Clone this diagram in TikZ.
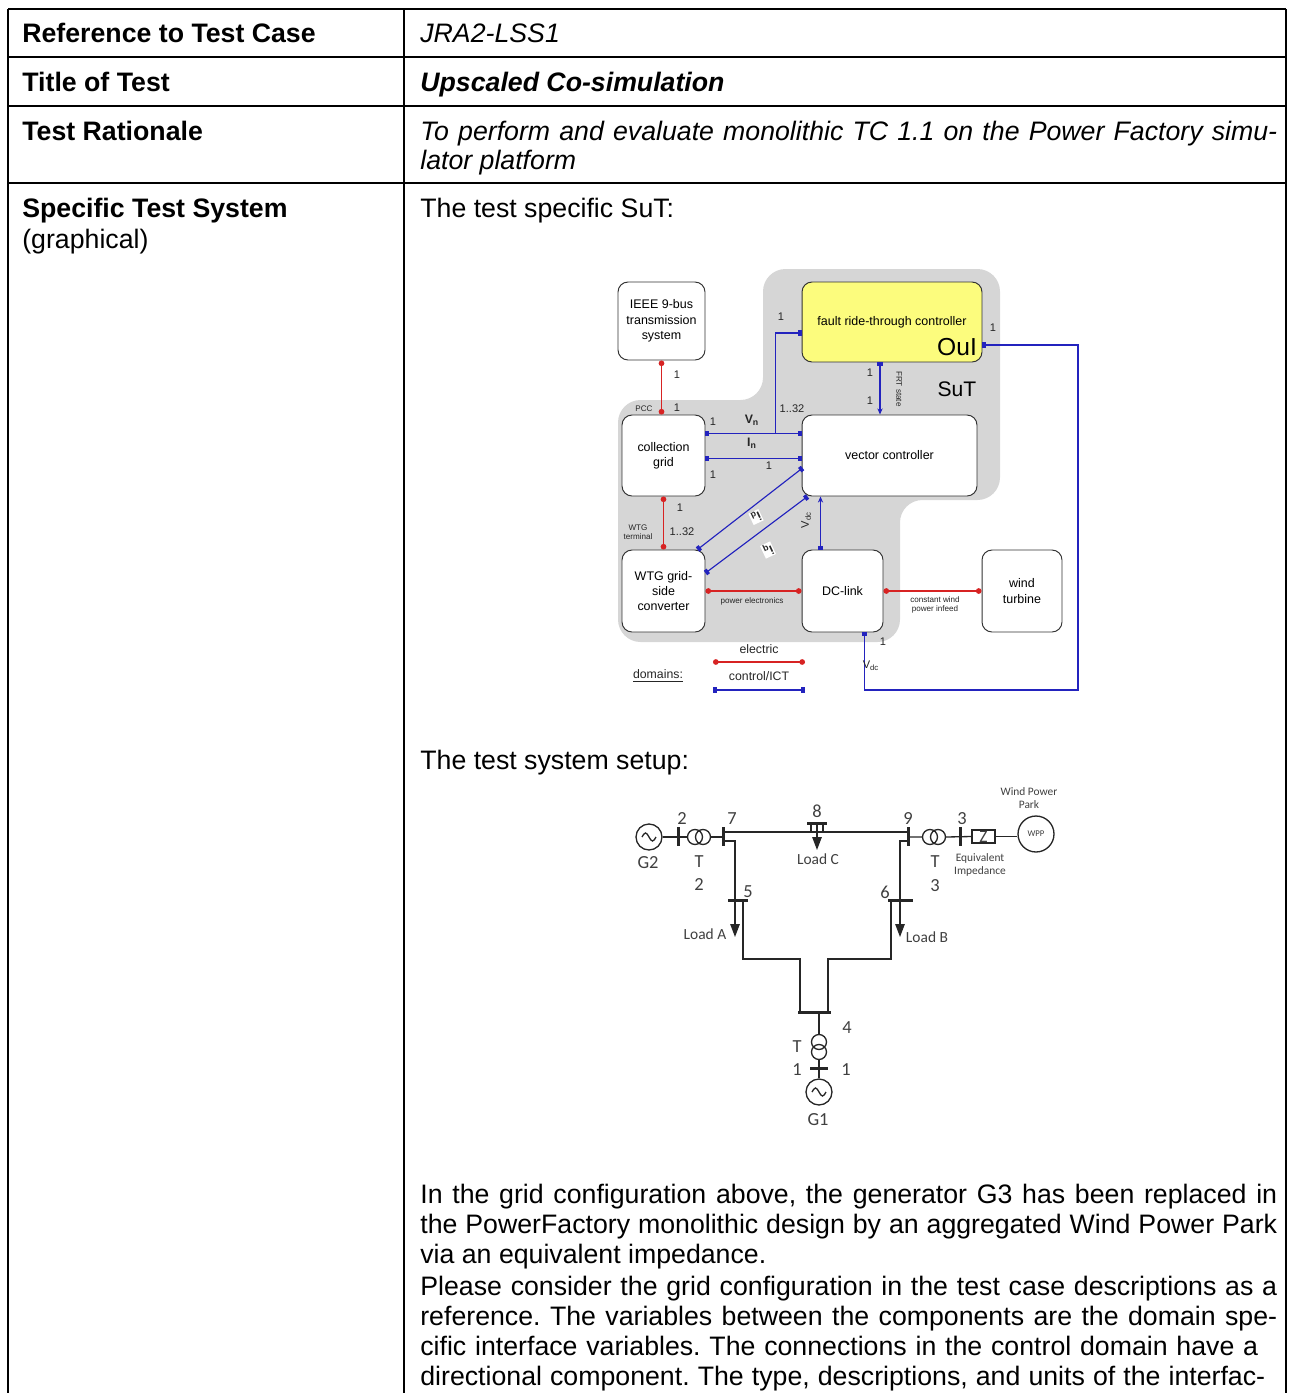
\documentclass[tikz,border=0pt]{standalone}
\usepackage{fontspec}
\setmainfont{Liberation Sans}
\newfontfamily\gridfont{Carlito}
\usetikzlibrary{calc, arrows.meta}
\frenchspacing

\definecolor{elred}{RGB}{215,35,35}
\definecolor{ctblue}{RGB}{35,35,190}
\definecolor{frtyellow}{RGB}{252,252,125}
\definecolor{sutgray}{RGB}{214,214,214}
\definecolor{gridtext}{RGB}{64,64,64}

\newlength\jw
\setlength\jw{17.14cm}
\newcommand\jline[2][\jw]{\makebox[#1][s]{#2}}

\tikzset{
  cell/.style={anchor=base west, inner sep=0pt, font=\fontsize{15.2}{17}\selectfont},
  block/.style={draw=black!80, fill=white, rounded corners=0.2cm, line width=0.55pt, align=center, inner sep=1pt, font=\fontsize{7.1}{8.8}\selectfont},
  elec/.style={draw=elred, line width=0.7pt, {Circle[length=3.2pt]}-{Circle[length=3.2pt]}},
  ctl/.style={draw=ctblue, line width=0.65pt, {Square[length=2pt,width=3.2pt]}-{Square[length=2pt,width=3.2pt]}},
  ctlend/.style={draw=ctblue, line width=0.65pt, -{Square[length=2pt,width=3.2pt]}},
  ctlin/.style={draw=ctblue, line width=0.65pt, {Square[length=2pt,width=3.2pt]}-{Stealth[length=3.5pt,width=3pt]}},
  num/.style={inner sep=0pt, font=\fontsize{6.3}{7}\selectfont, text=black!85},
  sig/.style={inner sep=0pt, font=\bfseries\fontsize{7}{8}\selectfont, text=black!85},
  minilbl/.style={inner sep=0pt, font=\fontsize{4.6}{5.4}\selectfont, text=black!85, align=center},
  legtxt/.style={inner sep=0pt, font=\fontsize{7}{8}\selectfont, text=black!85},
  wire/.style={line width=0.75pt, draw=black!85},
  busv/.style={fill=black!85, inner sep=0pt, minimum width=0.06cm, minimum height=0.38cm},
  bush/.style={fill=black!85, inner sep=0pt, minimum height=0.06cm},
  device/.style={draw=black!85, line width=0.75pt, circle, inner sep=0pt},
  load/.style={-{Triangle[length=0.26cm,width=0.19cm]}},
  gtxt/.style={inner sep=0pt, text=gridtext, font=\gridfont\fontsize{10.5}{12}\selectfont},
  gsmall/.style={inner sep=0pt, text=gridtext, font=\gridfont\fontsize{8.8}{10}\selectfont},
  gtiny/.style={inner sep=0pt, text=gridtext, font=\gridfont\fontsize{6.5}{7.6}\selectfont, align=center},
}

\begin{document}
\begin{tikzpicture}[x=0.02cm, y=-0.02cm, >=stealth]
  \useasboundingbox (0,0) rectangle (1293,1393);
  \clip (0,0) rectangle (1293,1393);
  \def\colx{404}

  % table
  \draw[line width=0.8pt] (8,9) -- (1286,9);
  \draw[line width=0.8pt] (8,9) -- (8,1400);
  \draw[line width=0.8pt] (1286,9) -- (1286,1400);
  \draw[line width=0.8pt] (\colx,9) -- (\colx,1400);
  \foreach \y in {57,106,183}
    \draw[line width=0.8pt] (8,\y) -- (1286,\y);

  \node[cell] (refkey) at (22,42) {\bfseries Reference to Test Case};
  \node[cell] (refval) at (420,42) {\itshape JRA2-LSS1};
  \node[cell] (titkey) at (22,91) {\bfseries Title of Test};
  \node[cell] (titval) at (420,91) {\bfseries\itshape Upscaled Co-simulation};
  \node[cell] (ratkey) at (22,140) {\bfseries Test Rationale};
  \node[cell] (ratval) at (420,140) {\itshape\jline{To perform and evaluate monolithic TC 1.1 on the Power Factory simu-}};
  \node[cell] (ratval2) at (420,169) {\itshape lator platform};
  \node[cell] (syskey) at (22,217) {\bfseries Specific Test System};
  \node[cell] (syskey2) at (22,248) {(graphical)};
  \node[cell] (sysval) at (420,217) {The test specific SuT:};

  % SuT
  \fill[sutgray, rounded corners=0.45cm] (618,400) -- (763,400) -- (763,269) -- (1000,269) -- (1000,500)
    -- (900,500) -- (900,642) -- (618,642) -- cycle;

  \node[block, minimum width=1.74cm, minimum height=1.56cm] (ieee) at (661.5,321) {IEEE 9-bus\\transmission\\system};
  \node[block, fill=frtyellow, minimum width=3.6cm, minimum height=1.6cm] (frt) at (892,322) {fault ride-through controller};
  \node[inner sep=0pt, font=\fontsize{14}{14}\selectfont] (oul) at (957,347) {OuI};
  \node[block, minimum width=1.66cm, minimum height=1.62cm] (cgrid) at (663.5,455.5) {collection\\grid};
  \node[block, minimum width=3.5cm, minimum height=1.62cm] (vctrl) at (889.5,455.5) {vector controller};
  \node[block, minimum width=1.66cm, minimum height=1.64cm] (wtg) at (663.5,591) {WTG grid-\\side\\converter};
  \node[block, minimum width=1.62cm, minimum height=1.64cm] (dclink) at (842.5,591) {DC-link};
  \node[block, minimum width=1.6cm, minimum height=1.64cm] (wturb) at (1022,591) {wind\\turbine};

  \draw[elec] (ieee.south) -- (ieee.south |- cgrid.north);
  \draw[elec] (cgrid.south) -- (wtg.north);
  \draw[elec] (wtg.east) -- (dclink.west);
  \draw[elec] (dclink.east) -- (wturb.west);

  \draw[ctl] ($(cgrid.east)+(0,-22)$) -- ($(vctrl.west)+(0,-22)$);
  \coordinate (vnsplit) at ($(cgrid.east)!0.73!(vctrl.west)+(0,-22)$);
  \draw[ctlend] (vnsplit) |- ($(frt.west)+(0,11)$);
  \draw[ctl] ($(cgrid.east)+(0,3)$) -- ($(vctrl.west)+(0,3)$);
  \coordinate (frtout) at ($(frt.south)+(-12,0)$);
  \draw[ctlin] (frtout) -- (frtout |- vctrl.north);
  \draw[ctl] ($(vctrl.west)+(1,12.5)$) -- ($(wtg.north east)+(-8,0)$);
  \draw[ctl] ($(vctrl.south west)+(6,0)$) -- ($(wtg.east)+(0,-18)$);
  \coordinate (vdcin) at ($(dclink.north)+(-22,0)$);
  \draw[ctlin] (vdcin) -- (vdcin |- vctrl.south);
  \coordinate (vdcout) at ($(dclink.south)+(22,0)$);
  \draw[ctl] (vdcout) |- (1078,690) |- ($(frt.east)+(0,23)$);

  \node[num] (n1) at (677,375) {1};
  \node[minilbl] (pcc) at (644,409) {PCC};
  \node[num] (n2) at (677,408) {1};
  \node[num] (n3) at (781,317) {1};
  \node[num] (n4) at (713,422) {1};
  \node[sig] (vn) at (752,420) {V\textsubscript{n}};
  \node[num] (n5) at (792,409) {1..32};
  \node[sig] (in) at (752,443) {I\textsubscript{n}};
  \node[num] (n6) at (769,466) {1};
  \node[num] (n7) at (713,475) {1};
  \node[num] (n8) at (870,373) {1};
  \node[num] (n9) at (870,401) {1};
  \node[minilbl, rotate=-90] (frtst) at (899,389) {FRT state};
  \node[inner sep=0pt, font=\fontsize{12}{12}\selectfont] (sut) at (957,389) {SuT};
  \node[num] (n10) at (993,328) {1};
  \node[num] (n11) at (680,508) {1};
  \node[minilbl] (wtgterm) at (638,532) {WTG\\terminal};
  \node[num] (n12) at (682,532) {1..32};
  \node[sig, fill=white, inner sep=0.4pt, rotate=-155] (id) at (756,517) {i\textsubscript{d}};
  \node[sig, fill=white, inner sep=0.4pt, rotate=-155] (iq) at (768,550) {i\textsubscript{q}};
  \node[num, rotate=90] (vdc1) at (806,520) {V\textsubscript{dc}};
  \node[minilbl] (pel) at (752,601) {power electronics};
  \node[minilbl] (cwpi) at (935,605) {constant wind\\power infeed};
  \node[num] (n13) at (883,642) {1};
  \node[num] (vdc2) at (871,666) {V\textsubscript{dc}};

  % legend
  \coordinate (leg1a) at (713,662);
  \coordinate (leg1b) at (805,662);
  \coordinate (leg2a) at (713,690);
  \coordinate (leg2b) at (805,690);
  \draw[elec] (leg1a) -- (leg1b);
  \draw[ctl] (leg2a) -- (leg2b);
  \node[legtxt] (legel) at (759,649) {electric};
  \node[legtxt] (legct) at (759,676) {control/ICT};
  \node[legtxt] (legdom) at (658,676) {\underline{domains:}};

  % test system
  \node[cell] (setup) at (420,769) {The test system setup:};

  \node[device, minimum size=0.52cm] (g2) at (649,837) {};
  \draw[wire] ($(g2.center)+(-7,0)$) sin ++(3.5,-4) cos ++(3.5,4) sin ++(3.5,4) cos ++(3.5,-4);
  \node[busv] (b2) at (678,836.5) {};
  \node[device, minimum size=0.3cm] (t2a) at (695,837) {};
  \node[device, minimum size=0.3cm] (t2b) at (703,837) {};
  \node[busv] (b7) at (723,836.5) {};
  \node[bush, minimum width=0.4cm] (b8) at (817,823) {};
  \node[busv] (b9) at (908,836.5) {};
  \node[device, minimum size=0.3cm] (t3a) at (930,837) {};
  \node[device, minimum size=0.3cm] (t3b) at (938,837) {};
  \node[busv] (b3) at (960,836.5) {};
  \node[draw=black!85, line width=0.75pt, minimum width=0.46cm, minimum height=0.26cm, inner sep=0pt,
        text=gridtext, font=\gridfont\fontsize{10}{10}\selectfont] (zimp) at (983.5,836.5) {Z};
  \node[device, minimum size=0.72cm, text=gridtext, font=\gridfont\fontsize{5}{5}\selectfont] (wpp) at (1036,834) {WPP};
  \node[bush, minimum width=0.4cm] (b5) at (738,900) {};
  \node[bush, minimum width=0.5cm] (b6) at (900,900) {};
  \node[bush, minimum width=0.66cm] (b4) at (814,1012) {};
  \node[device, minimum size=0.3cm] (t1a) at (819,1042) {};
  \node[device, minimum size=0.3cm] (t1b) at (819,1052) {};
  \node[bush, minimum width=0.36cm] (b1) at (819,1068) {};
  \node[device, minimum size=0.52cm] (g1) at (819,1092) {};
  \draw[wire] ($(g1.center)+(-7,0)$) sin ++(3.5,-4) cos ++(3.5,4) sin ++(3.5,4) cos ++(3.5,-4);

  \draw[wire] (g2.east) -- (t2a.west);
  \draw[wire] (t2b.east) -- (t2b.east -| b7.center);
  \draw[wire] ($(b7.center)+(0,-4.5)$) -- ($(b9.center)+(0,-4.5)$);
  \draw[wire] ($(b8.center)+(-6,0)$) -- ++(0,9);
  \draw[wire] ($(b8.center)+(6,0)$) -- ++(0,9);
  \draw[wire, load] (b8.center) -- ++(0,27);
  \draw[wire] ($(b7.center)+(0,4.5)$) -| ($(b5.center)+(-3,0)$);
  \draw[wire, load] ($(b5.center)+(-3,0)$) -- ++(0,37);
  \draw[wire] ($(b5.center)+(5,0)$) |- (800,959) -- ($(b4.center)+(-14,0)$);
  \draw[wire] ($(b9.center)+(0,4.5)$) -| (b6.center);
  \draw[wire, load] (b6.center) -- ++(0,37);
  \draw[wire] ($(b6.center)+(-9,0)$) |- (828,959) -- ($(b4.center)+(14,0)$);
  \draw[wire] (t1a.north |- b4.center) -- (t1a.north);
  \draw[wire] (t1b.south) -- (g1.north);
  \draw[wire] ($(b9.center)+(0,0.5)$) -- (t3a.west);
  \draw[wire] (t3b.east) -- (zimp.west);
  \draw[wire] (zimp.east) -- (zimp.east -| wpp.west);

  \node[gtxt] (l2) at (682,819) {2};
  \node[gtxt] (l7) at (732,819) {7};
  \node[gtxt] (l8) at (817,811) {8};
  \node[gtxt] (l9) at (908,819) {9};
  \node[gtxt] (l3) at (962,819) {3};
  \node[gtxt] (lg2) at (648,863) {G2};
  \node[gtxt] (lt2) at (699,862) {T};
  \node[gtxt] (lt2n) at (699,885) {2};
  \node[gsmall] (lc) at (818,859) {Load C};
  \node[gtxt] (l5) at (748,892) {5};
  \node[gsmall] (la) at (705,934) {Load A};
  \node[gtxt] (l6) at (885,892) {6};
  \node[gsmall] (lb) at (927,937) {Load B};
  \node[gtxt] (lt3) at (935,862) {T};
  \node[gtxt] (lt3n) at (935,886) {3};
  \node[gtiny] (leq) at (980,865) {Equivalent\\Impedance};
  \node[gtiny] (lwpp) at (1029,798) {Wind Power\\Park};
  \node[gtxt] (l4) at (847,1028) {4};
  \node[gtxt] (lt1) at (797,1047) {T};
  \node[gtxt] (l1a) at (797,1070) {1};
  \node[gtxt] (l1b) at (846,1070) {1};
  \node[gtxt] (lg1) at (818,1120) {G1};

  % text below
  \node[cell] (p1a) at (420,1203) {\jline{In the grid configuration above, the generator G3 has been replaced in}};
  \node[cell] (p1b) at (420,1233) {\jline{the PowerFactory monolithic design by an aggregated Wind Power Park}};
  \node[cell] (p1c) at (420,1263) {via an equivalent impedance.};
  \node[cell] (p2a) at (420,1295) {\jline{Please consider the grid configuration in the test case descriptions as a}};
  \node[cell] (p2b) at (420,1325) {\jline{reference. The variables between the components are the domain spe-}};
  \node[cell] (p2c) at (420,1355) {\jline[16.76cm]{cific interface variables. The connections in the control domain have a}};
  \node[cell] (p2d) at (420,1385) {\jline[16.9cm]{directional component. The type, descriptions, and units of the interfac-}};
\end{tikzpicture}
\end{document}
